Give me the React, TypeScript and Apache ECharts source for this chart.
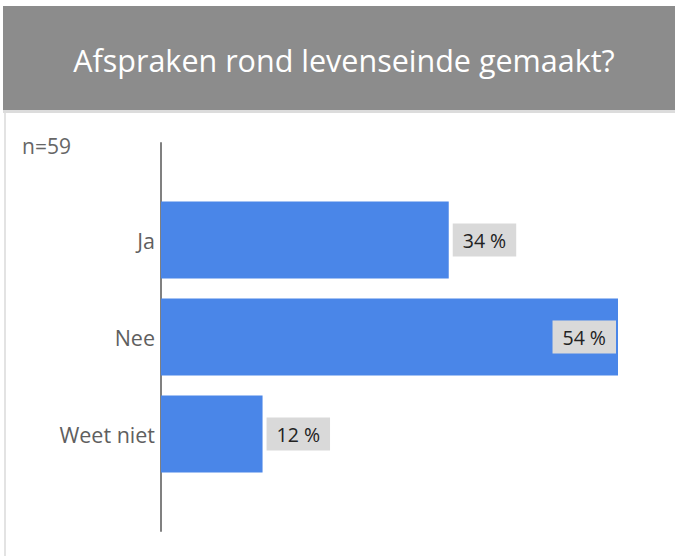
import React, { useEffect, useRef } from "react";
import * as echarts from "echarts";

const title = "Afspraken rond levenseinde gemaakt?";
const sampleNote = "n=59";
const categories = ["Ja", "Nee", "Weet niet"];
const values = [34, 54, 12];
const labelInside = [false, true, false];

export default function App() {
  const ref = useRef<HTMLDivElement>(null);
  useEffect(() => {
    if (!ref.current) return;
    const chart = echarts.init(ref.current, undefined, { renderer: "svg" });
    const font = "'Open Sans', sans-serif";
    const yData = ["", ...categories, ""];
    const seriesData: any[] = [
      "-",
      ...values.map((v, i) => ({
        value: v,
        label: labelInside[i]
          ? { position: "insideRight", distance: 2 }
          : { position: "right", distance: 4 },
      })),
      "-",
    ];
    chart.setOption({
      animation: false,
      backgroundColor: "#ffffff",
      grid: { left: 161, right: 57, top: 143, bottom: 25, containLabel: false },
      xAxis: { type: "value", min: 0, max: 54, show: false },
      yAxis: {
        type: "category",
        inverse: true,
        boundaryGap: false,
        data: yData,
        axisTick: { show: false },
        axisLine: { show: true, lineStyle: { color: "#808080", width: 2 } },
        axisLabel: { margin: 6, fontSize: 21.5, color: "#5f5f5f", fontFamily: font },
        splitLine: { show: false },
      },
      series: [
        {
          type: "bar",
          data: seriesData,
          barWidth: 77,
          itemStyle: { color: "#4a86e8" },
          label: {
            show: true,
            formatter: "{c} %",
            fontSize: 19.5,
            color: "#222222",
            fontFamily: font,
            backgroundColor: "#d9d9d9",
            padding: [7, 10, 6, 10],
          },
        },
      ],
      graphic: [
        { type: "rect", shape: { x: 3, y: 6, width: 672, height: 104 }, style: { fill: "#8c8c8c" }, silent: true },
        { type: "rect", shape: { x: 3, y: 110, width: 672, height: 3 }, style: { fill: "#dcdcdc" }, silent: true },
        { type: "rect", shape: { x: 4, y: 113, width: 2, height: 443 }, style: { fill: "#e3e3e3" }, silent: true },
        {
          type: "text",
          x: 344,
          y: 60,
          style: {
            text: title,
            fill: "#ffffff",
            fontSize: 30.5,
            fontFamily: font,
            align: "center",
            verticalAlign: "middle",
          },
        },
        {
          type: "text",
          x: 22,
          y: 146,
          style: {
            text: sampleNote,
            fill: "#666666",
            fontSize: 21,
            fontFamily: font,
            align: "left",
            verticalAlign: "middle",
          },
        },
      ],
    });
    return () => chart.dispose();
  }, []);
  return <div ref={ref} style={{ width: 675, height: 556, position: "absolute", left: 0, top: 0 }} />;
}
